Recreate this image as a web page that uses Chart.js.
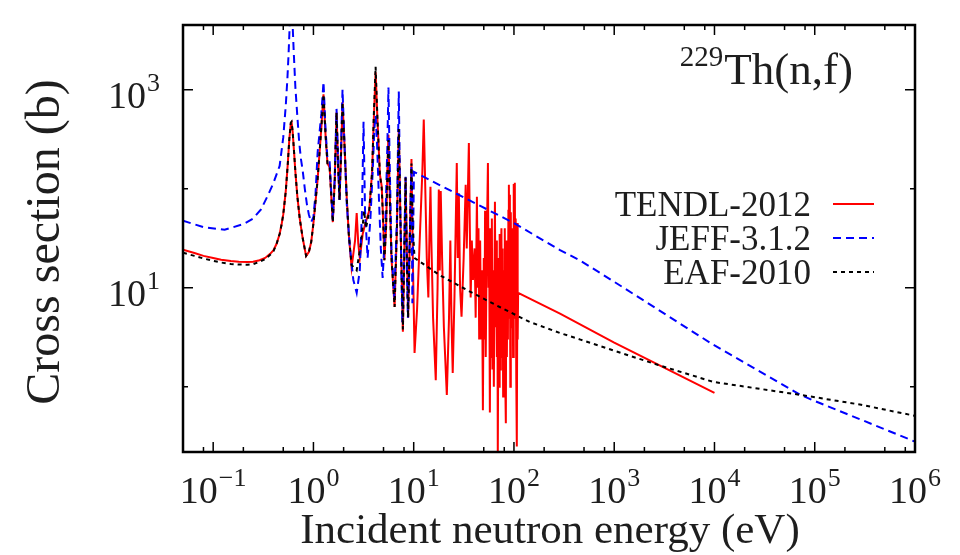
<!DOCTYPE html>
<html><head><meta charset="utf-8">
<script src="https://cdn.jsdelivr.net/npm/chart.js@4.4.1/dist/chart.umd.min.js"></script>
<style>html,body{margin:0;padding:0;background:#fff;}canvas{display:block;}</style>
</head><body>
<canvas id="c" width="960" height="555"></canvas>
<script>
// ---- data ----
const seriesLabels = ['TENDL-2012', 'JEFF-3.1.2', 'EAF-2010'];

const tendlEnergy = [
  0.05,0.065,0.08,0.1,0.12,0.15,0.18,0.22,0.25,0.29,0.33,0.37,0.40,0.43,0.46,0.48,0.50,0.53,0.555,0.575,0.595,0.605,0.62,0.64,0.66,0.69,0.73,0.78,0.845,0.9,0.95,1.0,
  1.1,1.2,1.26,1.32,1.38,1.45,1.5,1.56,1.63,1.7,1.76,1.82,1.88,1.95,2.05,2.15,2.25,2.4,2.6,2.7,2.8,2.9,3.1,3.3,3.6,3.85,4.0,4.17,4.35,4.6,4.8,4.95,5.1,5.3,5.5,5.6,5.75,6.0,6.45,6.8,7.1,7.4,7.8,8.05,8.3,8.55,8.8,9.2,9.5,9.8,10.2,
  10.8,11.6,12.2,12.6,13.0,13.5,14.0,14.4,14.7,15.0,15.6,16.6,17.3,17.8,18.2,18.6,19.2,20.0,21.4,22.5,23.2,23.8,24.5,25.5,26.9,27.5,28.2,29,30,31.5,33,33.8,35.5,36.3,37,38,39,40.5,
  41.5,42.7,43.5,44.3,45,46,47,48,49,50,50.8,51.5,52.3,53.5,55,55.8,56.5,57.5,58.5,59.3,60.2,61,62,63,64.6,65.5,66.5,67.5,68.3,69,70,71,72,73,74,75,76,77,78,79,80,81,82,83,84,85,86,87,88,89,90,91,92,93,94,95,96,97,98,99,100,101,102,103,104,105.5,106.5,107,108,108.5,109.3,110,
  288,1000,10000];
const tendlSigma = [
  24.2,22.5,21,20,19.2,18.6,18.3,18.2,18.3,19,20,22,24,28,35,43,55,95,180,320,460,470,380,240,150,85,50,32,21,23,29,45,
  123,420,900,350,180,165,90,46,120,590,180,77,200,750,250,80,35,16,30,57,28,20,35,45,60,150,500,1500,500,140,105,50,19,40,200,350,100,20,6.4,40,400,40,3.6,20,130,25,5,40,200,20,2.2,
  6,40,150,500,120,20,8,40,105,30,5,1.17,10,98,15,95,20,4,0.83,5,30,5,1.38,8,182,20,90,10,5.1,20,110,25,290,40,8,30,12,25,
  5,83,10,40,3,30,3,15,0.58,20,3,60,2,25,182,10,40,0.55,30,2,50,1.5,15,1,74,4,30,2,20,0.2,8,1,35,1.5,20,40,2,25,0.8,15,2,40,1,0.43,30,2,20,3,60,110,5,87,1,58,5,40,4,30,2,60,112,5,115,8,50,1.2,20,0.25,10,45,3,8.9,
  5.5,2.8,0.87];

const jeffEnergy = [
  0.05,0.08,0.13,0.2,0.25,0.3,0.35,0.40,0.46,0.50,0.53,0.55,0.565,0.58,0.60,0.62,0.635,0.66,0.69,0.72,0.75,0.78,0.82,0.86,0.9,0.95,1.0,1.05,
  1.1,1.2,1.26,1.32,1.38,1.45,1.5,1.56,1.63,1.7,1.76,1.82,1.88,1.95,2.05,2.15,2.3,2.5,2.7,2.9,3.05,3.16,3.27,3.47,3.7,3.9,4.05,4.17,4.3,4.5,4.7,4.9,5.2,5.45,5.6,5.75,6.0,6.4,6.8,7.1,7.35,7.7,8.0,8.3,8.55,8.75,9.1,9.5,9.7,9.9,10.05,
  100,288,460,1000,9800,72000,100000,300000,1000000];
const jeffSigma = [
  47.5,41,38.5,44,50,62,85,115,170,330,700,1300,2300,4500,9000,4500,2500,1070,550,300,200,155,100,70,55,46,52,90,
  230,580,1200,400,200,190,100,48,130,640,190,77,250,1000,250,70,27,12,8.9,15,60,475,60,20,50,150,400,550,300,80,25,12.6,40,250,1050,200,25,8,50,960,60,4.4,20,132,15,5,30,170,7,40,148,
  45,24,18.8,11.5,2.65,0.83,0.72,0.46,0.28];

const eafEnergy = [
  0.05,0.065,0.08,0.1,0.12,0.15,0.18,0.22,0.25,0.29,0.33,0.37,0.40,0.43,0.46,0.48,0.50,0.53,0.555,0.575,0.595,0.605,0.62,0.64,0.66,0.69,0.73,0.78,0.845,0.9,0.95,1.0,
  1.1,1.2,1.26,1.32,1.38,1.45,1.5,1.56,1.63,1.7,1.76,1.82,1.88,1.95,2.05,2.15,2.25,2.4,2.7,3.0,3.2,3.35,3.6,3.85,4.0,4.17,4.35,4.6,4.8,4.95,5.1,5.3,5.5,5.6,5.75,6.0,6.45,6.8,7.1,7.4,7.8,8.05,8.3,8.55,8.8,9.2,9.5,9.8,10.2,
  18,34,72,145,288,460,2700,9800,72000,290000,1000000];
const eafSigma = [
  22.6,21,19.8,18.7,18,17.4,17.2,17.1,17.3,18.3,19.5,21.5,23.5,28,35,43,55,95,180,320,465,475,380,240,150,85,50,32,21,23,29,45,
  123,420,900,350,180,165,90,46,120,590,180,77,200,750,250,80,35,17,15,30,60,40,60,150,550,1700,500,140,100,50,19,40,180,310,90,20,6.4,40,400,40,3.8,20,130,20,5,40,180,40,20,
  13.5,9.5,6.4,4.5,3.5,3.0,1.67,1.12,0.83,0.66,0.51];

const xTickExponents = [-1, 0, 1, 2, 3, 4, 5, 6];
const xMinorMultipliers = [2, 5, 8];
const yTickExponents = [1, 3];
const yMinorExponents = [0, 2];
const titleIsotope = '229';
const titleReaction = 'Th(n,f)';
const xAxisTitle = 'Incident neutron energy (eV)';
const yAxisTitle = 'Cross section (b)';

// ---- rendering ----
const SERIF = '"Liberation Serif", "Times New Roman", serif';
const TEXT = '#1e1e1e';
const toXY = (es, ss) => es.map((e, i) => ({x: e, y: ss[i]}));
const expText = e => (e < 0 ? '\u2212' + Math.abs(e) : String(e));

const decor = {
  id: 'decor',
  afterDraw(chart) {
    const {ctx, chartArea: a, scales: {x, y}} = chart;
    ctx.save();
    ctx.strokeStyle = '#000';
    ctx.lineWidth = 1.5;
    const vtick = (px, len) => {
      ctx.beginPath();
      ctx.moveTo(px, a.bottom); ctx.lineTo(px, a.bottom - len);
      ctx.moveTo(px, a.top); ctx.lineTo(px, a.top + len);
      ctx.stroke();
    };
    const htick = (py, len) => {
      ctx.beginPath();
      ctx.moveTo(a.left, py); ctx.lineTo(a.left + len, py);
      ctx.moveTo(a.right, py); ctx.lineTo(a.right - len, py);
      ctx.stroke();
    };
    xTickExponents.forEach(e => vtick(x.getPixelForValue(Math.pow(10, e)), 10));
    for (let e = -2; e <= 6; e++) {
      xMinorMultipliers.forEach(m => {
        const v = m * Math.pow(10, e);
        if (v > x.min && v < x.max) vtick(x.getPixelForValue(v), 5);
      });
    }
    yTickExponents.forEach(e => htick(y.getPixelForValue(Math.pow(10, e)), 10));
    yMinorExponents.forEach(e => htick(y.getPixelForValue(Math.pow(10, e)), 5));

    ctx.lineWidth = 2.5;
    ctx.strokeRect(a.left, a.top, a.right - a.left, a.bottom - a.top);

    ctx.fillStyle = TEXT;
    ctx.textBaseline = 'alphabetic';
    ctx.textAlign = 'left';
    const powWidth = e => {
      ctx.font = `38px ${SERIF}`; const w1 = ctx.measureText('10').width;
      ctx.font = `26px ${SERIF}`; const w2 = ctx.measureText(expText(e)).width;
      return [w1, w2];
    };
    const drawPow = (e, left, base) => {
      const [w1] = powWidth(e);
      ctx.font = `38px ${SERIF}`; ctx.fillText('10', left, base);
      ctx.font = `26px ${SERIF}`; ctx.fillText(expText(e), left + w1 + 1, base - 17);
    };
    xTickExponents.forEach(e => {
      const px = x.getPixelForValue(Math.pow(10, e));
      const [w1, w2] = powWidth(e);
      drawPow(e, px - (w1 + w2 + 1) / 2, 503);
    });
    yTickExponents.forEach(e => {
      const py = y.getPixelForValue(Math.pow(10, e));
      drawPow(e, 108, py + 18);
    });

    ctx.font = `43px ${SERIF}`;
    ctx.textAlign = 'center';
    ctx.fillText(xAxisTitle, 550, 543);
    ctx.save();
    ctx.translate(46, 242);
    ctx.rotate(-Math.PI / 2);
    ctx.font = `48px ${SERIF}`;
    ctx.textBaseline = 'middle';
    ctx.fillText(yAxisTitle, 0, 0);
    ctx.restore();

    ctx.textAlign = 'left';
    ctx.textBaseline = 'alphabetic';
    ctx.font = `45px ${SERIF}`;
    const wr = ctx.measureText(titleReaction).width;
    const x0 = 853 - wr;
    ctx.fillText(titleReaction, x0, 84);
    ctx.font = `29px ${SERIF}`;
    const wi = ctx.measureText(titleIsotope).width;
    ctx.fillText(titleIsotope, x0 - wi - 1, 66);

    const rows = [204, 238, 272];
    chart.data.datasets.forEach((ds, i) => {
      const cy = rows[i];
      ctx.font = `35px ${SERIF}`;
      ctx.textAlign = 'right';
      ctx.fillStyle = TEXT;
      ctx.fillText(ds.label, 811, cy + 12);
      ctx.strokeStyle = ds.borderColor;
      ctx.lineWidth = ds.borderWidth;
      ctx.setLineDash(ds.borderDash || []);
      ctx.beginPath(); ctx.moveTo(833, cy); ctx.lineTo(874, cy); ctx.stroke();
      ctx.setLineDash([]);
    });
    ctx.restore();
  }
};

new Chart(document.getElementById('c'), {
  type: 'line',
  data: {
    datasets: [
      {label: seriesLabels[0], data: toXY(tendlEnergy, tendlSigma), borderColor: '#ff0000', borderWidth: 2, borderDash: [], order: 3},
      {label: seriesLabels[1], data: toXY(jeffEnergy, jeffSigma), borderColor: '#0000ff', borderWidth: 2, borderDash: [8, 5], order: 2},
      {label: seriesLabels[2], data: toXY(eafEnergy, eafSigma), borderColor: '#000000', borderWidth: 2, borderDash: [4, 4], order: 1}
    ]
  },
  options: {
    responsive: false,
    animation: false,
    devicePixelRatio: 1,
    layout: {padding: {left: 183, right: 45, top: 25, bottom: 103}},
    elements: {point: {radius: 0}, line: {tension: 0, fill: false}},
    scales: {
      x: {type: 'logarithmic', min: 0.05, max: 1e6, display: false},
      y: {type: 'logarithmic', min: 0.22, max: 4500, display: false}
    },
    plugins: {legend: {display: false}, tooltip: {enabled: false}}
  },
  plugins: [decor]
});
</script>
</body></html>
